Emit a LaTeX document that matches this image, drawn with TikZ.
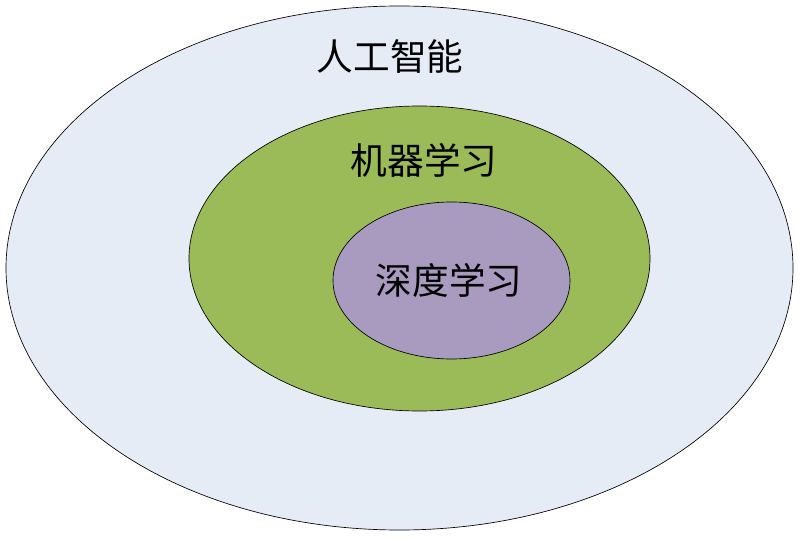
\documentclass[tikz,border=0pt]{standalone}
\usepackage{fontspec}
\newfontfamily\cjk{Noto Sans CJK SC}
\usepackage{tikz}
\usetikzlibrary{shapes.geometric,positioning}

\definecolor{aiblue}{HTML}{E6ECF6}
\definecolor{mlgreen}{HTML}{9BBB59}
\definecolor{dlpurple}{HTML}{A89BBF}

\begin{document}
\begin{tikzpicture}[
x=0.75pt, y=-0.75pt,
field/.style={ellipse, draw=black, line width=0.5pt, inner sep=0pt},
label/.style={font=\cjk\fontsize{27.5}{32}\selectfont, text=black, inner sep=0pt},
]
\useasboundingbox (0,0) rectangle (800,538);
%Nodes
\node[field, fill=aiblue,   minimum width=590.25pt, minimum height=393pt]   (ai) at (399.5,268)   {};
\node[field, fill=mlgreen,  minimum width=345.75pt, minimum height=228.75pt] (ml) at (419.5,258.5) {};
\node[field, fill=dlpurple, minimum width=177.75pt, minimum height=117.75pt] (dl) at (451.5,280.5) {};

%Labels
\node[label] (ailabel) at (390,57)  {人工智能};
\node[label] (mllabel) at (424,160) {机器学习};
\node[label] (dllabel) at (449,280) {深度学习};
\end{tikzpicture}
\end{document}
